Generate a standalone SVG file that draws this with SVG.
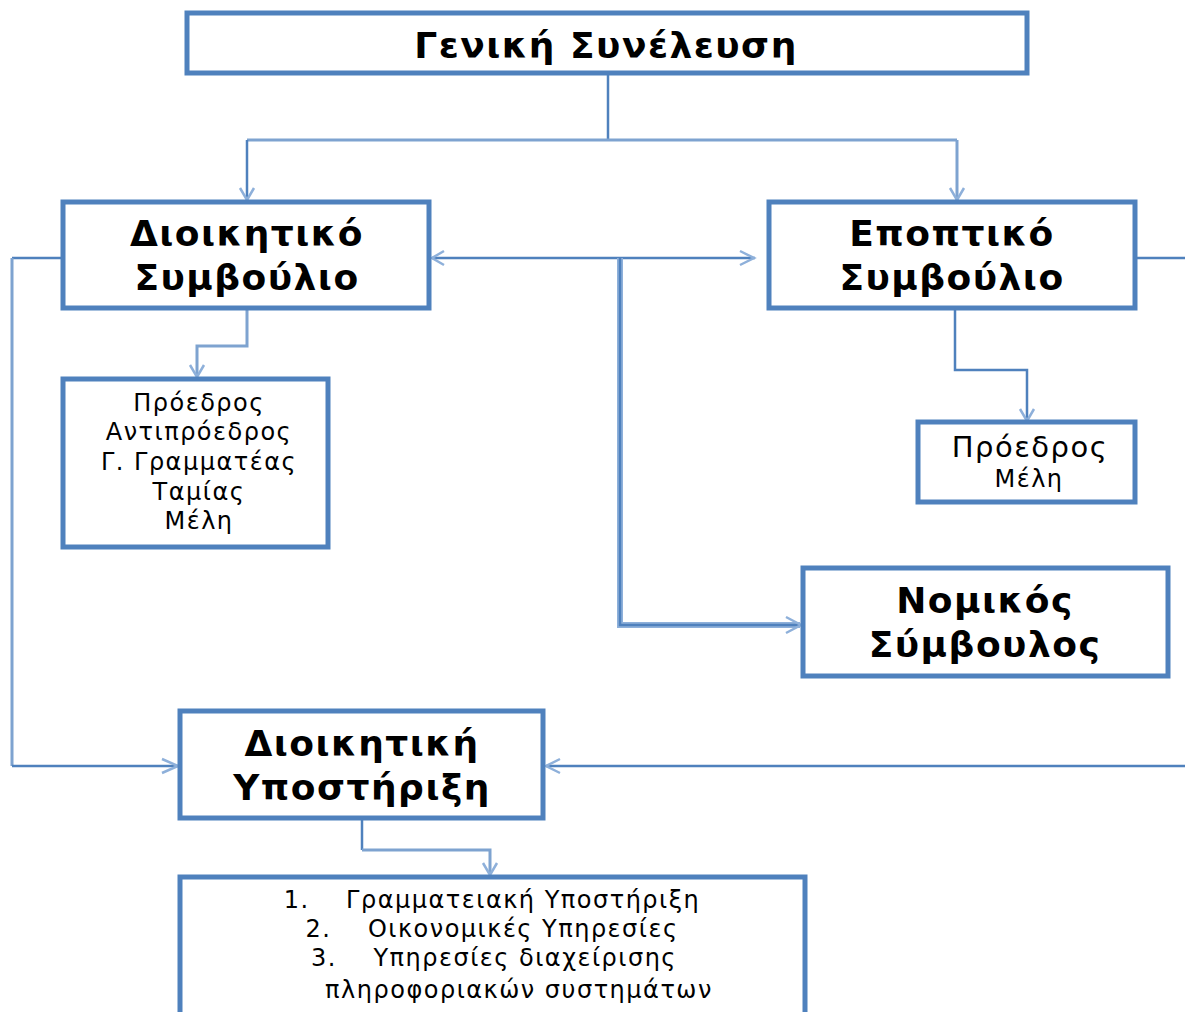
<svg xmlns="http://www.w3.org/2000/svg" width="1185" height="1012" viewBox="0 0 1185 1012">
<style>
.box{fill:#fff;stroke:#4f81bd;stroke-width:5}
.t{font-family:"DejaVu Sans",sans-serif;font-weight:bold;fill:#000;text-anchor:middle}
.big{font-size:36px;letter-spacing:1.5px}
.s{font-family:"DejaVu Sans",sans-serif;fill:#000;text-anchor:middle;font-size:24px;letter-spacing:1.5px}
.ln{fill:none;stroke:#4f81bd;stroke-width:2.5}
.lt{fill:none;stroke:#7ea3d0;stroke-width:3}
.dbl{fill:none;stroke:#8eb0da;stroke-width:6}
.ah{fill:none;stroke:#8eb0da;stroke-width:2.5}
</style>
<g id="connectors">
<path class="ln" d="M608,73 V140"/>
<path class="lt" d="M247,140 H957"/>
<path class="ln" d="M247,140 V200"/>
<path class="lt" d="M957,140 V200"/>
<path class="ah" d="M240,188 L247,200 L254,188"/>
<path class="ah" d="M950,188 L957,200 L964,188"/>
<path class="ln" d="M432,258 H755"/>
<path class="ah" d="M444,251 L432,258 L444,265"/>
<path class="ah" d="M740,251 L754,258 L740,265"/>
<path class="dbl" d="M620,258 V625 H800"/>
<path class="ln" d="M620,258 V625 H800" stroke-width="1.5"/>
<path class="ah" d="M786,617 L801,625 L786,633"/>
<path class="ln" d="M63,258 H12"/>
<path class="lt" d="M12,258 V766"/>
<path class="ln" d="M12,766 H178"/>
<path class="ah" d="M162,759 L178,766 L162,773"/>
<path class="ln" d="M1135,258 H1185"/>
<path class="ln" d="M1185,766 H546"/>
<path class="ah" d="M560,759 L546,766 L560,773"/>
<path class="lt" d="M247,310 V346 H197 V376"/>
<path class="ah" d="M190,365 L197,377 L204,365"/>
<path class="ln" d="M955,310 V370 H1027 V420"/>
<path class="ah" d="M1020,409 L1027,421 L1034,409"/>
<path class="ln" d="M362,820 V850"/>
<path class="lt" d="M362,850 H490 V874"/>
<path class="ah" d="M483,863 L490,875 L497,863"/>
</g>
<g id="n-geniki">
<rect class="box" x="187" y="13" width="840" height="60"/>
<text class="t big" x="606" y="58">Γενική Συνέλευση</text>
</g>
<g id="n-dioikitiko">
<rect class="box" x="63" y="202" width="366" height="106"/>
<text class="t big" x="247" y="246">Διοικητικό</text>
<text class="t big" x="247" y="290">Συμβούλιο</text>
</g>
<g id="n-epoptiko">
<rect class="box" x="769" y="202" width="366" height="106"/>
<text class="t big" x="952" y="246">Εποπτικό</text>
<text class="t big" x="952" y="290">Συμβούλιο</text>
</g>
<g id="n-ds-members">
<rect class="box" x="63" y="379" width="265" height="168"/>
<text class="s" x="199" y="411">Πρόεδρος</text>
<text class="s" x="199" y="440">Αντιπρόεδρος</text>
<text class="s" x="199" y="470">Γ. Γραμματέας</text>
<text class="s" x="199" y="500">Ταμίας</text>
<text class="s" x="199" y="529">Μέλη</text>
</g>
<g id="n-es-members">
<rect class="box" x="918" y="422" width="217" height="80"/>
<text class="s" x="1030" y="457" style="font-size:29px">Πρόεδρος</text>
<text class="s" x="1029" y="487">Μέλη</text>
</g>
<g id="n-nomikos">
<rect class="box" x="803" y="568" width="365" height="108"/>
<text class="t big" x="985" y="613">Νομικός</text>
<text class="t big" x="985" y="657">Σύμβουλος</text>
</g>
<g id="n-ypostirixi">
<rect class="box" x="180" y="711" width="363" height="107"/>
<text class="t big" x="362" y="756">Διοικητική</text>
<text class="t big" x="362" y="800">Υποστήριξη</text>
</g>
<g id="n-services">
<rect class="box" x="180" y="877" width="625" height="150"/>
<text class="s" x="492" y="908" xml:space="preserve">1.    Γραμματειακή Υποστήριξη</text>
<text class="s" x="492" y="937" xml:space="preserve">2.    Οικονομικές Υπηρεσίες</text>
<text class="s" x="494" y="966" xml:space="preserve">3.    Υπηρεσίες διαχείρισης</text>
<text class="s" x="519" y="998">πληροφοριακών συστημάτων</text>
</g>
</svg>
